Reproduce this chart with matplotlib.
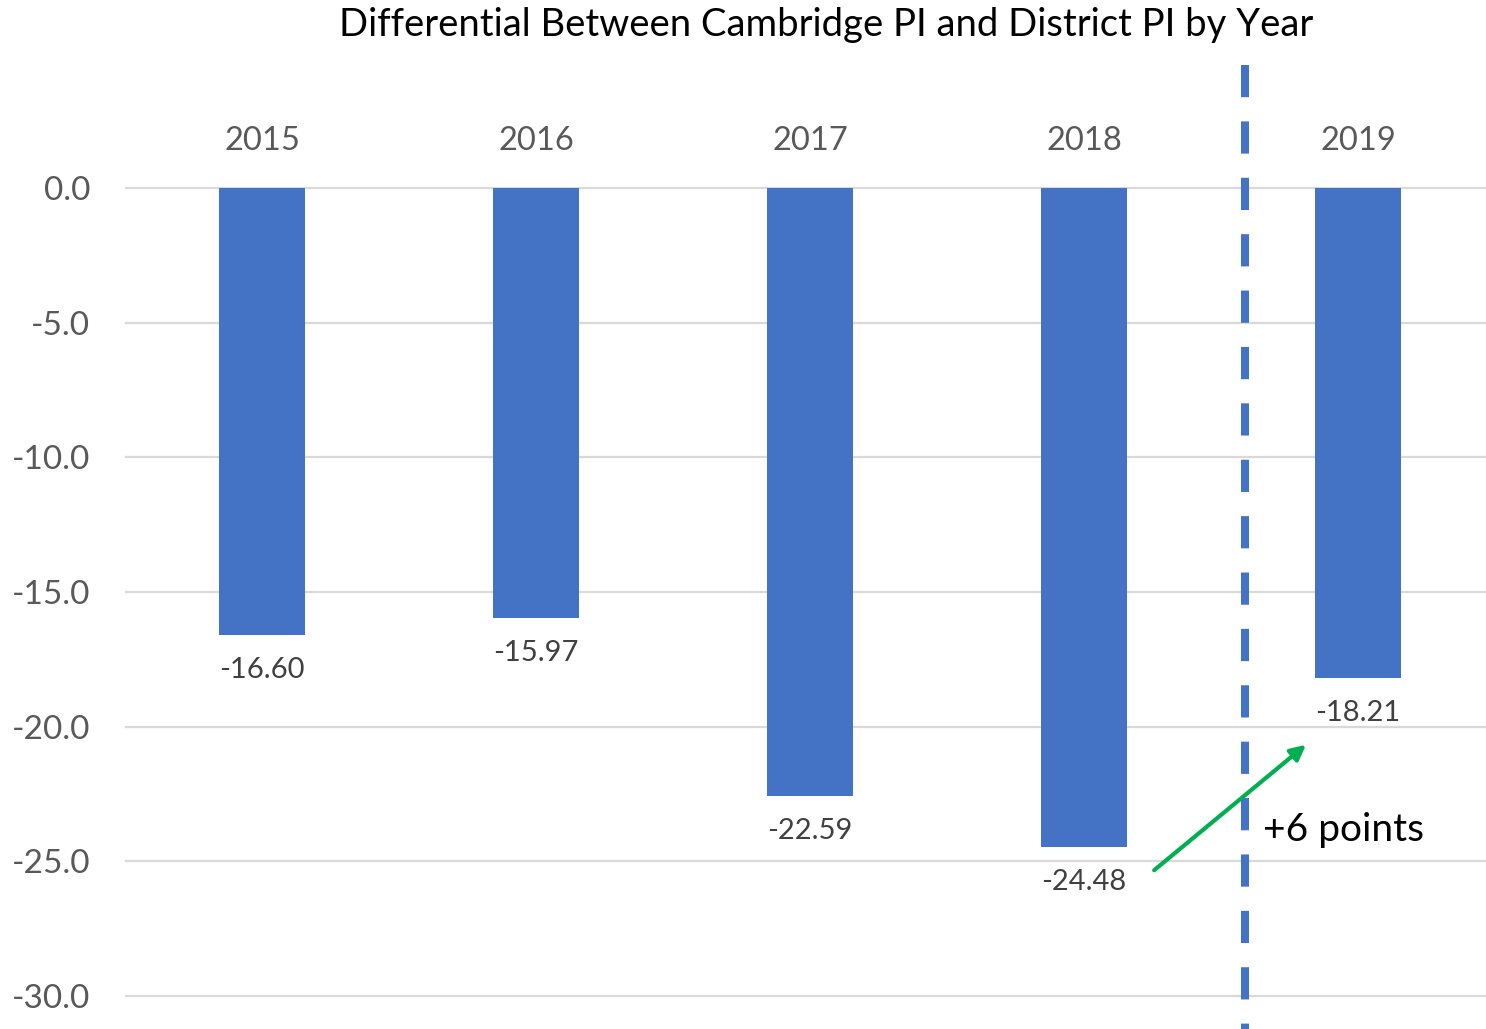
import matplotlib
matplotlib.use("Agg")
import matplotlib.pyplot as plt

years = ["2015", "2016", "2017", "2018", "2019"]
diffs = [-16.60, -15.97, -22.59, -24.48, -18.21]
yticks = [0, -5, -10, -15, -20, -25, -30]

plt.rcParams['font.family'] = ['Lato', 'DejaVu Sans']

blue = "#4472C4"
fig = plt.figure(figsize=(14.86, 10.29), dpi=100)
ax = fig.add_axes([125 / 1486, 0, 1361 / 1486, 1])

x = list(range(len(years)))
ax.bar(x, diffs, width=0.314, color=blue, zorder=3)

ax.set_xlim(-0.5, 4.467)
ax.set_ylim(-31.23, 6.98)
ax.set_yticks(yticks)
ax.set_yticklabels(["%.1f" % v for v in yticks], fontsize=24, color="#595959")
ax.tick_params(axis='y', length=0, pad=25)
ax.set_xticks([])
for s in ax.spines.values():
    s.set_visible(False)
for v in yticks:
    ax.axhline(v, color="#D9D9D9", lw=1.6, zorder=1)

# year labels across the top
for xi, yr in zip(x, years):
    ax.text(xi, 1.75, yr, ha='center', va='center', fontsize=23.5, color="#595959")

# value labels under each bar
for xi, v in zip(x, diffs):
    ax.annotate("%.2f" % v, (xi, v), xytext=(0, -25), textcoords='offset points',
                ha='center', va='center', fontsize=21, color="#404040")

# separator before 2019
ax.plot([3.588, 3.588], [4.57, -31.23], color=blue, lw=5.8,
        ls=(0, (4, 3)), solid_capstyle='butt', dash_capstyle='butt', zorder=4)

ax.annotate("", xy=(3.818, -20.61), xytext=(3.248, -25.40),
            arrowprops=dict(arrowstyle="-|>,head_length=0.9,head_width=0.45",
                            color="#00B050", lw=3), zorder=5)
ax.text(3.653, -23.85, "+6 points", ha='left', va='center', fontsize=28, color="black")

fig.text(826 / 1486, 1 - 25 / 1029, "Differential Between Cambridge PI and District PI by Year",
         ha='center', va='center', fontsize=27.5, color="black")

fig.savefig("out.png", dpi=100)
